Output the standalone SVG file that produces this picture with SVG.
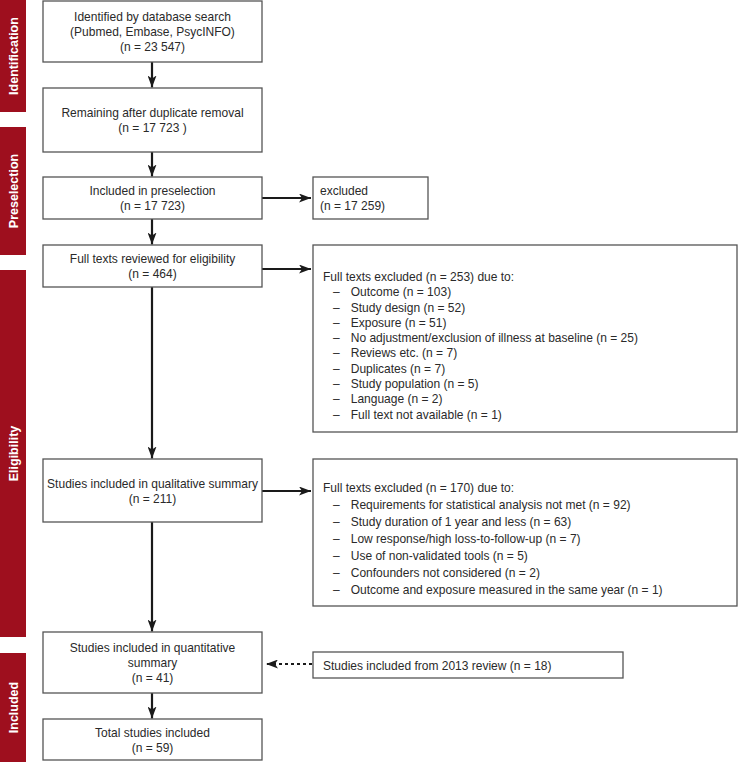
<svg xmlns="http://www.w3.org/2000/svg" width="738" height="762" viewBox="0 0 738 762">
<style>
.bar{fill:#9e0f1e}
.lab{font-family:"Liberation Sans",Arial,sans-serif;font-size:12.5px;font-weight:bold;fill:#ffffff;text-anchor:middle}
.box{fill:#ffffff;stroke:#555555;stroke-width:1.3}
.t{font-family:"Liberation Sans",Arial,sans-serif;font-size:13.2px;fill:#2a2a2a;transform-box:fill-box;transform-origin:0% 50%;transform:scaleX(0.91)}
.c{text-anchor:middle;transform-origin:50% 50%}
.ar{stroke:#1a1a1a;stroke-width:2.2;fill:none;marker-end:url(#ah)}
.dot{stroke-dasharray:3 3}
</style>
<defs>
<marker id="ah" viewBox="0 0 12 9" markerWidth="12" markerHeight="9" markerUnits="userSpaceOnUse" orient="auto" refX="12" refY="4.5">
<path d="M0,0 L12,4.5 L0,9 L3,4.5 Z" fill="#1a1a1a"/>
</marker>
</defs>
<rect width="738" height="762" fill="#ffffff"/>
<g id="phases">
<rect class="bar" x="0" y="0" width="26" height="112"/>
<text class="lab" transform="translate(17.8,56) rotate(-90)">Identification</text>
<rect class="bar" x="0" y="127" width="26" height="128"/>
<text class="lab" transform="translate(17.8,191) rotate(-90)">Preselection</text>
<rect class="bar" x="0" y="270" width="26" height="367"/>
<text class="lab" transform="translate(17.8,453.5) rotate(-90)">Eligibility</text>
<rect class="bar" x="0" y="653" width="26" height="109"/>
<text class="lab" transform="translate(17.8,707.5) rotate(-90)">Included</text>
</g>
<g id="connectors">
<line class="ar" x1="152" y1="62" x2="152" y2="87.5"/>
<line class="ar" x1="152" y1="152" x2="152" y2="176.5"/>
<line class="ar" x1="152" y1="219" x2="152" y2="244.5"/>
<line class="ar" x1="152" y1="287" x2="152" y2="458.5"/>
<line class="ar" x1="152" y1="522" x2="152" y2="631.5"/>
<line class="ar" x1="152" y1="693" x2="152" y2="718.5"/>
<line class="ar" x1="262" y1="198" x2="311" y2="198"/>
<line class="ar" x1="262" y1="269" x2="311" y2="269"/>
<line class="ar" x1="262" y1="491" x2="311" y2="491"/>
<line class="ar dot" x1="312" y1="664" x2="266" y2="664"/>
</g>
<g id="identified">
<rect class="box" x="43" y="1" width="219" height="61"/>
<text class="t c" x="152.5" y="21">Identified by database search</text>
<text class="t c" x="152.5" y="36">(Pubmed, Embase, PsycINFO)</text>
<text class="t c" x="152.5" y="51">(n = 23 547)</text>
</g>
<g id="remaining">
<rect class="box" x="43" y="88" width="219" height="64"/>
<text class="t c" x="152.5" y="117">Remaining after duplicate removal</text>
<text class="t c" x="152.5" y="132">(n = 17 723 )</text>
</g>
<g id="preselection">
<rect class="box" x="43" y="177" width="219" height="42"/>
<text class="t c" x="152.5" y="195">Included in preselection</text>
<text class="t c" x="152.5" y="210">(n = 17 723)</text>
</g>
<g id="excluded1">
<rect class="box" x="313" y="177" width="115" height="42"/>
<text class="t" x="320" y="195">excluded</text>
<text class="t" x="320" y="210">(n = 17 259)</text>
</g>
<g id="fulltexts">
<rect class="box" x="43" y="245" width="219" height="42"/>
<text class="t c" x="152.5" y="263">Full texts reviewed for eligibility</text>
<text class="t c" x="152.5" y="278">(n = 464)</text>
</g>
<g id="excluded2">
<rect class="box" x="313" y="245" width="424" height="187"/>
<text class="t" x="323" y="281">Full texts excluded (n = 253) due to:</text>
<text class="t" y="296.3"><tspan x="333">–</tspan><tspan x="352.5">Outcome (n = 103)</tspan></text>
<text class="t" y="311.6"><tspan x="333">–</tspan><tspan x="352.5">Study design (n = 52)</tspan></text>
<text class="t" y="326.9"><tspan x="333">–</tspan><tspan x="352.5">Exposure (n = 51)</tspan></text>
<text class="t" y="342.2"><tspan x="333">–</tspan><tspan x="352.5">No adjustment/exclusion of illness at baseline (n = 25)</tspan></text>
<text class="t" y="357.5"><tspan x="333">–</tspan><tspan x="352.5">Reviews etc. (n = 7)</tspan></text>
<text class="t" y="372.8"><tspan x="333">–</tspan><tspan x="352.5">Duplicates (n = 7)</tspan></text>
<text class="t" y="388.1"><tspan x="333">–</tspan><tspan x="352.5">Study population (n = 5)</tspan></text>
<text class="t" y="403.4"><tspan x="333">–</tspan><tspan x="352.5">Language (n = 2)</tspan></text>
<text class="t" y="418.7"><tspan x="333">–</tspan><tspan x="352.5">Full text not available (n = 1)</tspan></text>
</g>
<g id="qualitative">
<rect class="box" x="43" y="459" width="219" height="63"/>
<text class="t c" x="152.5" y="488">Studies included in qualitative summary</text>
<text class="t c" x="152.5" y="503">(n = 211)</text>
</g>
<g id="excluded3">
<rect class="box" x="313" y="459" width="424" height="147"/>
<text class="t" x="323" y="492">Full texts excluded (n = 170) due to:</text>
<text class="t" y="509"><tspan x="333">–</tspan><tspan x="352.5">Requirements for statistical analysis not met (n = 92)</tspan></text>
<text class="t" y="526"><tspan x="333">–</tspan><tspan x="352.5">Study duration of 1 year and less (n = 63)</tspan></text>
<text class="t" y="543"><tspan x="333">–</tspan><tspan x="352.5">Low response/high loss-to-follow-up (n = 7)</tspan></text>
<text class="t" y="560"><tspan x="333">–</tspan><tspan x="352.5">Use of non-validated tools (n = 5)</tspan></text>
<text class="t" y="577"><tspan x="333">–</tspan><tspan x="352.5">Confounders not considered (n = 2)</tspan></text>
<text class="t" y="594"><tspan x="333">–</tspan><tspan x="352.5">Outcome and exposure measured in the same year (n = 1)</tspan></text>
</g>
<g id="quantitative">
<rect class="box" x="43" y="632" width="219" height="61"/>
<text class="t c" x="152.5" y="652">Studies included in quantitative</text>
<text class="t c" x="152.5" y="667">summary</text>
<text class="t c" x="152.5" y="682">(n = 41)</text>
</g>
<g id="review2013">
<rect class="box" x="313" y="652" width="310" height="26"/>
<text class="t" x="323" y="670">Studies included from 2013 review (n = 18)</text>
</g>
<g id="total">
<rect class="box" x="43" y="719" width="219" height="41"/>
<text class="t c" x="152.5" y="737">Total studies included</text>
<text class="t c" x="152.5" y="752">(n = 59)</text>
</g>
</svg>
